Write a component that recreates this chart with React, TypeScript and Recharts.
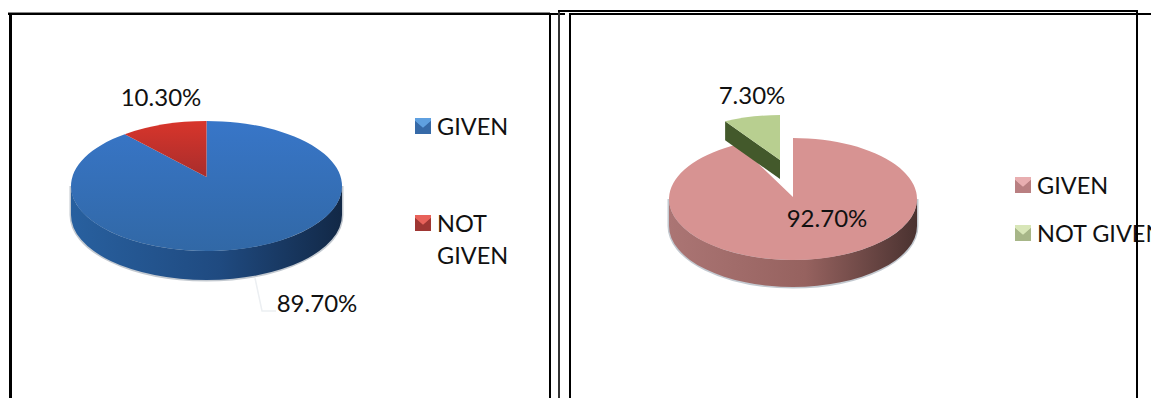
// App.tsx - two tilted pie charts, side wall drawn by a custom sector shape
import { PieChart, Pie, Legend } from "recharts";

const categories = ["GIVEN", "NOT GIVEN"];
const leftValues = [89.7, 10.3];
const rightValues = [92.7, 7.3];

const toRows = (values: number[], fills: string[]) =>
  categories.map((name, i) => ({ name, value: values[i], fill: fills[i] }));

const FONT = "Lato, 'Open Sans', sans-serif";

interface PanelConfig {
  id: string;
  left: number;
  width: number;
  cx: number;
  cy: number;
  radius: number;
  ry: number;
  depth: number;
  fills: string[];
  wall: string[];
  explode: { dx: number; dy: number; lift: number; depth: number; face: string } | null;
  apexLift: number;
  labelAt: { x: number; y: number }[];
  leader: string | null;
  legendLeft: number;
  legendTop: number;
  legendWidth: number;
  rowGap: number;
  swatch: { light: string; mid: string; dark: string }[];
}

const leftPanel: PanelConfig = {
  id: "a",
  left: 0,
  width: 556,
  cx: 206.5,
  cy: 186,
  radius: 135.5,
  ry: 65,
  depth: 29,
  fills: ["url(#topa0)", "url(#topa1)"],
  wall: ["#28609f", "#1f4a80", "#122846"],
  explode: null,
  apexLift: 9,
  labelAt: [
    { x: 317, y: 302 },
    { x: 161, y: 96 },
  ],
  leader: "255,278 262,311 276,311",
  legendLeft: 415,
  legendTop: 110,
  legendWidth: 100,
  rowGap: 97,
  swatch: [
    { light: "#5fa0e0", mid: "#3a70b0", dark: "#2c5a94" },
    { light: "#e8625a", mid: "#a83a36", dark: "#8a2e2c" },
  ],
};

const rightPanel: PanelConfig = {
  id: "b",
  left: 556,
  width: 595,
  cx: 237,
  cy: 199,
  radius: 124,
  ry: 61,
  depth: 27,
  fills: ["#d79392", "#b8cf90"],
  wall: ["#ab7574", "#96625f", "#4a3230"],
  explode: { dx: -13, dy: -23, lift: 16, depth: 19, face: "#43592b" },
  apexLift: 2,
  labelAt: [
    { x: 271, y: 217 },
    { x: 196, y: 94 },
  ],
  leader: null,
  legendLeft: 459,
  legendTop: 169,
  legendWidth: 160,
  rowGap: 48,
  swatch: [
    { light: "#e8aeb0", mid: "#c08688", dark: "#a87072" },
    { light: "#d8e6b8", mid: "#aebd8e", dark: "#97a67a" },
  ],
};

const RAD = Math.PI / 180;

// draws one slice as a flattened ellipse, plus the visible part of its wall
const makeShape = (cfg: PanelConfig) => (props: any) => {
  const { cx, cy, outerRadius, startAngle, endAngle, fill, index } = props;
  const rx = outerRadius;
  const ry = cfg.ry;
  const ex = index === 1 ? cfg.explode : null;
  const ox = cx + (ex ? ex.dx : 0);
  const oy = cy + (ex ? ex.dy : 0);
  const lift = ex ? ex.lift : cfg.apexLift;
  const pt = (a: number, down = 0) => ({
    x: ox + rx * Math.cos(a * RAD),
    y: oy - ry * Math.sin(a * RAD) + down,
  });
  const s = pt(startAngle);
  const e = pt(endAngle);
  const large = Math.abs(startAngle - endAngle) > 180 ? 1 : 0;
  const top = `M${ox},${oy - lift} L${s.x},${s.y} A${rx},${ry} 0 ${large} 1 ${e.x},${e.y} Z`;

  const a0 = Math.min(startAngle, 0);
  const a1 = Math.max(endAngle, -180);
  let wall = null;
  if (a0 > a1) {
    const p0 = pt(a0);
    const p1 = pt(a1);
    const q0 = pt(a0, cfg.depth);
    const q1 = pt(a1, cfg.depth);
    const d = `M${p0.x},${p0.y} A${rx},${ry} 0 0 1 ${p1.x},${p1.y} L${q1.x},${q1.y} A${rx},${ry} 0 0 0 ${q0.x},${q0.y} Z`;
    wall = (
      <>
        {/* thin grey halo that the source picture has round the wall */}
        <path d={d} fill="none" stroke="#c3c9d0" strokeWidth={3} />
        <path d={d} fill={`url(#wall${cfg.id})`} />
      </>
    );
  }
  let face = null;
  if (ex) {
    const d = ex.depth;
    face = (
      <path
        d={`M${ox},${oy - lift} L${s.x},${s.y} L${s.x},${s.y + d} L${ox},${oy - lift + d} Z`}
        fill={ex.face}
      />
    );
  }
  return (
    <g>
      {wall}
      {face}
      <path d={top} fill={fill} stroke="none" />
    </g>
  );
};

const makeLabel = (cfg: PanelConfig) => (props: any) => {
  const at = cfg.labelAt[props.index];
  return (
    <g key={props.index}>
      {props.index === 0 && cfg.leader ? (
        <polyline points={cfg.leader} fill="none" stroke="#eceff2" strokeWidth={1.5} />
      ) : null}
      <text
        x={at.x}
        y={at.y}
        textAnchor="middle"
        dominantBaseline="central"
        fontFamily={FONT}
        fontSize={24}
        fill="#111"
      >
        {`${props.value.toFixed(2)}%`}
      </text>
    </g>
  );
};

const makeLegend = (cfg: PanelConfig) => (props: any) => (
  <div style={{ fontFamily: FONT, fontSize: 23.5, lineHeight: "32px", color: "#111" }}>
    {(props.payload || []).map((item: any, i: number) => {
      const c = cfg.swatch[i];
      return (
        <div key={item.value} style={{ display: "flex", height: cfg.rowGap }}>
          <svg width={16} height={16} style={{ marginTop: 8, marginRight: 6, flex: "none" }}>
            <rect width={16} height={16} fill={c.dark} />
            <polygon points="0,0 16,0 16,3 8,10 0,3" fill={c.light} />
            <polygon points="0,3 8,10 16,3 16,16 0,16" fill={c.mid} opacity={0.7} />
          </svg>
          <span style={{ whiteSpace: cfg.id === "b" ? "nowrap" : "normal" }}>{item.value}</span>
        </div>
      );
    })}
  </div>
);

const PiePanel = ({ cfg, values }: { cfg: PanelConfig; values: number[] }) => (
  <div style={{ position: "absolute", left: cfg.left, top: 0 }}>
    <PieChart width={cfg.width} height={398} margin={{ top: 0, right: 0, bottom: 0, left: 0 }}>
      <defs>
        <linearGradient id={`wall${cfg.id}`} x1="0" y1="0" x2="1" y2="0">
          <stop offset="0%" stopColor={cfg.wall[0]} />
          <stop offset="55%" stopColor={cfg.wall[1]} />
          <stop offset="100%" stopColor={cfg.wall[2]} />
        </linearGradient>
        <linearGradient id="topa0" x1="0" y1="0" x2="0" y2="1">
          <stop offset="0%" stopColor="#3876c8" />
          <stop offset="100%" stopColor="#3168a6" />
        </linearGradient>
        <linearGradient id="topa1" x1="0" y1="0" x2="0" y2="1">
          <stop offset="0%" stopColor="#d8352b" />
          <stop offset="100%" stopColor="#a82d2c" />
        </linearGradient>
      </defs>
      <Pie
        data={toRows(values, cfg.fills)}
        dataKey="value"
        nameKey="name"
        cx={cfg.cx}
        cy={cfg.cy}
        outerRadius={cfg.radius}
        startAngle={90}
        endAngle={-270}
        stroke="none"
        isAnimationActive={false}
        shape={makeShape(cfg)}
        label={makeLabel(cfg)}
        labelLine={false}
      />
      <Legend
        content={makeLegend(cfg)}
        wrapperStyle={{
          position: "absolute",
          left: cfg.legendLeft,
          top: cfg.legendTop,
          width: cfg.legendWidth,
        }}
      />
    </PieChart>
  </div>
);

// frame lines around the two panels: x, y, w, h, colour
const frameLines: [number, number, number, number, string][] = [
  [8, 12, 542, 1, "#888"],
  [8, 13, 543, 2, "#000"],
  [9, 13, 3, 385, "#000"],
  [549, 13, 2, 385, "#000"],
  [551, 13, 14, 2, "#000"],
  [558, 10, 2, 388, "#333"],
  [558, 10, 579, 2, "#000"],
  [569, 13, 2, 385, "#000"],
  [569, 13, 582, 2, "#000"],
  [1136, 10, 2, 388, "#000"],
];

export default function App() {
  return (
    <div
      style={{
        position: "fixed",
        left: 0,
        top: 0,
        width: 1151,
        height: 398,
        overflow: "hidden",
        background: "#fff",
      }}
    >
      <PiePanel cfg={leftPanel} values={leftValues} />
      <PiePanel cfg={rightPanel} values={rightValues} />
      {frameLines.map(([x, y, w, h, c], i) => (
        <div
          key={i}
          style={{ position: "absolute", left: x, top: y, width: w, height: h, background: c }}
        />
      ))}
    </div>
  );
}
